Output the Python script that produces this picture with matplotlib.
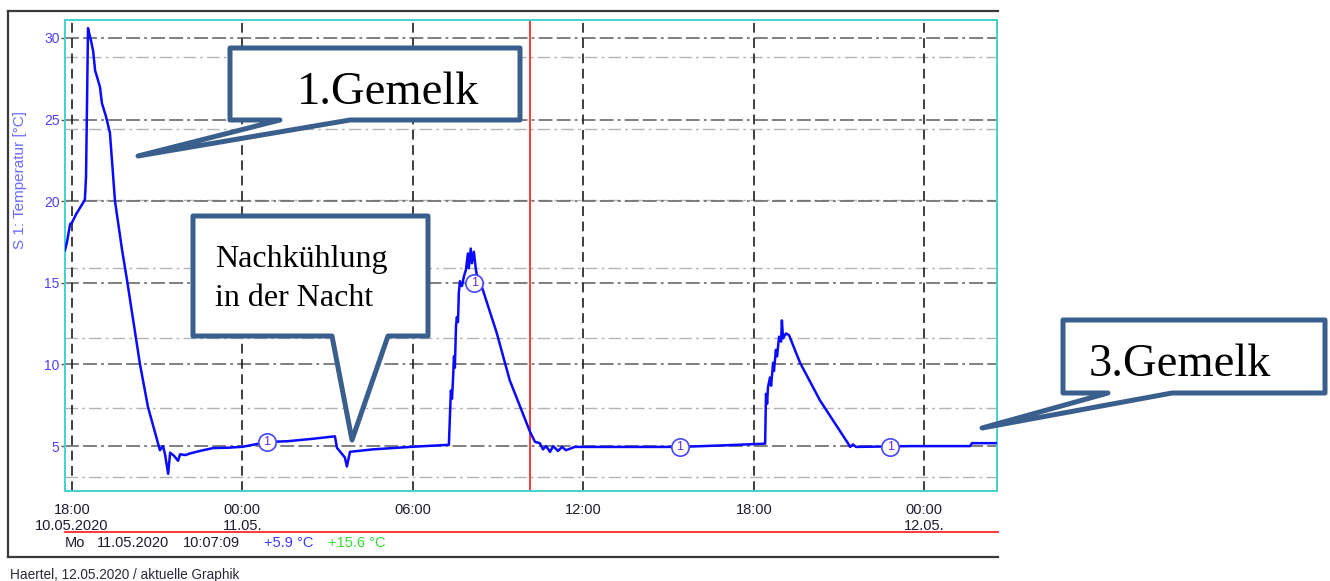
import matplotlib
matplotlib.use("Agg")
import matplotlib.pyplot as plt
from matplotlib.patches import Polygon
from matplotlib.lines import Line2D

plt.rcParams["lines.scale_dashes"] = False
plt.rcParams["font.family"] = ["Liberation Sans", "DejaVu Sans"]

# ---------------- data (hours since 10.05.2020 00:00, temperature in °C) ----------------
hours = [17.76, 17.83, 17.94, 18.01, 18.15, 18.29, 18.43, 18.46, 18.50, 18.53, 18.57, 18.61,
         18.68, 18.75, 18.82, 18.89, 18.99, 19.06, 19.20, 19.34, 19.52, 19.77, 19.94, 20.40,
         20.68, 21.10, 21.21, 21.28, 21.39, 21.46, 21.60, 21.74, 21.81, 22.00, 22.16, 22.50,
         22.97, 23.50, 24.02, 24.87, 25.60, 26.49, 27.26, 27.33, 27.61, 27.68, 27.79, 28.60,
         30.00, 31.27, 31.34, 31.38, 31.41, 31.45, 31.48, 31.52, 31.55, 31.59, 31.62, 31.66,
         31.73, 31.80, 31.87, 31.94, 31.97, 32.04, 32.08, 32.15, 32.22, 32.29, 32.43, 32.96,
         33.41, 34.12, 34.30, 34.47, 34.58, 34.69, 34.83, 34.94, 35.11, 35.25, 35.39, 35.70,
         37.50, 39.40, 41.00, 42.40, 42.43, 42.47, 42.50, 42.57, 42.61, 42.68, 42.71, 42.78,
         42.82, 42.89, 42.96, 42.99, 43.03, 43.13, 43.24, 43.63, 44.33, 45.32, 45.39, 45.49,
         45.60, 47.50, 49.61, 49.68, 50.56]
temps = [17.0, 17.5, 18.6, 18.7, 19.2, 19.6, 20.0, 20.1, 21.5, 25.4, 30.6, 30.3,
         29.8, 29.2, 28.0, 27.6, 27.0, 26.0, 25.2, 24.2, 20.0, 17.0, 15.2, 10.0,
         7.4, 4.75, 5.0, 4.5, 3.3, 4.6, 4.4, 4.1, 4.5, 4.45, 4.55, 4.7,
         4.88, 4.9, 4.96, 5.25, 5.3, 5.45, 5.6, 4.9, 4.3, 3.75, 4.65, 4.8,
         4.96, 5.08, 8.4, 7.9, 8.9, 10.5, 9.8, 12.3, 12.9, 12.6, 14.4, 15.1,
         14.8, 15.4, 15.8, 16.8, 15.9, 17.1, 16.2, 16.9, 15.8, 15.2, 14.76, 11.9,
         9.04, 5.9, 5.26, 5.18, 4.8, 5.0, 4.65, 5.0, 4.7, 4.95, 4.75, 4.95,
         4.95, 4.95, 5.05, 5.15, 8.2, 7.6, 8.6, 9.2, 8.7, 10.1, 9.6, 10.9,
         10.5, 11.7, 11.4, 12.7, 11.6, 11.9, 11.8, 10.1, 7.8, 5.16, 4.95, 5.1,
         4.95, 5.0, 5.0, 5.18, 5.18]

marker_hours = [24.87, 32.16, 39.40, 46.80]
marker_temps = [5.25, 15.0, 4.95, 4.95]
marker_text = "1"

xtick_hours = [18, 24, 30, 36, 42, 48]
xtick_labels = ["18:00\n10.05.2020", "00:00\n11.05.", "06:00", "12:00", "18:00", "00:00\n12.05."]
ytick_values = [5, 10, 15, 20, 25, 30]
minor_grid_values = [3.1, 7.35, 11.6, 15.9, 20.05, 24.45, 28.85]
cursor_hour = 34.119
x_range = (17.76, 50.56)
y_range = (2.25, 31.1)

y_label = "S 1: Temperatur [°C]"
status_day = "Mo"
status_date = "11.05.2020"
status_time = "10:07:09"
status_s1 = "+5.9 °C"
status_s2 = "+15.6 °C"
footer = "Haertel, 12.05.2020 / aktuelle Graphik"

callout1 = "1.Gemelk"
callout2 = ["Nachkühlung", "in der Nacht"]
callout3 = "3.Gemelk"

# ---------------- figure ----------------
W, H = 1330, 581
fig = plt.figure(figsize=(W / 100, H / 100), dpi=100)
fig.patch.set_facecolor("white")

def fx(px):
    return px / W

def fy(py):
    return 1 - py / H

ax = fig.add_axes([fx(65), fy(491), fx(997) - fx(65), fy(20) - fy(491)])
ax.set_xlim(*x_range)
ax.set_ylim(*y_range)

for s in ax.spines.values():
    s.set_color("#3fd3d3")
    s.set_linewidth(1.4)

# grids
for v in minor_grid_values:
    ax.axhline(v, color="#b4b4b4", lw=1.0, ls=(0, (9, 3, 2, 3)), zorder=1)
for v in ytick_values:
    ax.axhline(v, color="#6a6a6a", lw=1.2, ls=(0, (10, 3, 10, 3, 2, 3)), zorder=1.2)
for h in xtick_hours:
    ax.axvline(h, color="#1e1e1e", lw=1.2, ls=(0, (7, 4)), zorder=1.4)

ax.axvline(cursor_hour, color="#ff2a2a", lw=1.3, zorder=2)

ax.plot(hours, temps, color="#0a0aff", lw=1.8, zorder=3, solid_joinstyle="round")
ax.plot(marker_hours, marker_temps, "o", ms=12.5, mfc="white", mec="#4646ff", mew=1.2, zorder=4)
for h, t in zip(marker_hours, marker_temps):
    ax.text(h, t, marker_text, ha="center", va="center", fontsize=9, color="#6a2ccc", zorder=5)

ax.set_yticks(ytick_values)
ax.set_yticklabels([str(v) for v in ytick_values])
ax.tick_params(axis="y", colors="#5040ff", labelsize=10, length=3, width=1, pad=1,
               color="#555555")
ax.set_xticks(xtick_hours)
ax.set_xticklabels(xtick_labels)
ax.tick_params(axis="x", labelsize=10.5, length=0, pad=9, labelcolor="#1c1c30")
for lab in ax.get_xticklabels():
    lab.set_linespacing(1.1)

ax.set_ylabel(y_label, color="#6a6aff", fontsize=11)
ax.yaxis.set_label_coords(-0.041, 0.66)

# ---------------- frame, status line, footer ----------------
frame_c = "#3a3a3a"
fig.add_artist(Line2D([fx(8), fx(998)], [fy(11), fy(11)], color=frame_c, lw=1.6))
fig.add_artist(Line2D([fx(8), fx(8)], [fy(11), fy(557)], color=frame_c, lw=1.6))
fig.add_artist(Line2D([fx(8), fx(998)], [fy(557), fy(557)], color=frame_c, lw=1.6))
fig.add_artist(Line2D([fx(65), fx(998)], [fy(532), fy(532)], color="#ff2a2a", lw=1.3))

sy = fy(543)
fig.text(fx(65), sy, status_day, fontsize=10.5, color="#1c1c30", va="center")
fig.text(fx(97), sy, status_date, fontsize=10.5, color="#1c1c30", va="center")
fig.text(fx(183), sy, status_time, fontsize=10.5, color="#1c1c30", va="center")
fig.text(fx(264), sy, status_s1, fontsize=10.5, color="#3a3aff", va="center")
fig.text(fx(328), sy, status_s2, fontsize=10.5, color="#33e033", va="center")
fig.text(fx(10), fy(575), footer, fontsize=9.8, color="#2a2a3a", va="center")

# ---------------- callouts (pixel overlay) ----------------
ov = fig.add_axes([0, 0, 1, 1], zorder=10)
ov.set_xlim(0, W)
ov.set_ylim(H, 0)
ov.axis("off")
ov.patch.set_alpha(0)

edge = "#3b5f8c"
def callout(x0, x1, y0, y1, bl, br, tip):
    pts = [(x0, y0), (x1, y0), (x1, y1), (br, y1), tip, (bl, y1), (x0, y1)]
    ov.add_patch(Polygon(pts, closed=True, facecolor="white", edgecolor=edge, lw=3.6,
                         joinstyle="round"))

callout(230, 520, 48, 120, 280, 350, (138, 156))
callout(193, 428, 216, 336, 332, 388, (352, 440))
callout(1063, 1325, 320, 393, 1108, 1172, (982, 428))

serif = ["Liberation Serif", "DejaVu Serif"]
ov.text(388, 104, callout1, ha="center", va="baseline", fontsize=33.5, family=serif, color="black")
ov.text(215, 267, callout2[0], ha="left", va="baseline", fontsize=23, family=serif, color="black")
ov.text(215, 306, callout2[1], ha="left", va="baseline", fontsize=23, family=serif, color="black")
ov.text(1180, 376, callout3, ha="center", va="baseline", fontsize=33.5, family=serif, color="black")

fig.savefig("out.png", dpi=100, facecolor="white")
